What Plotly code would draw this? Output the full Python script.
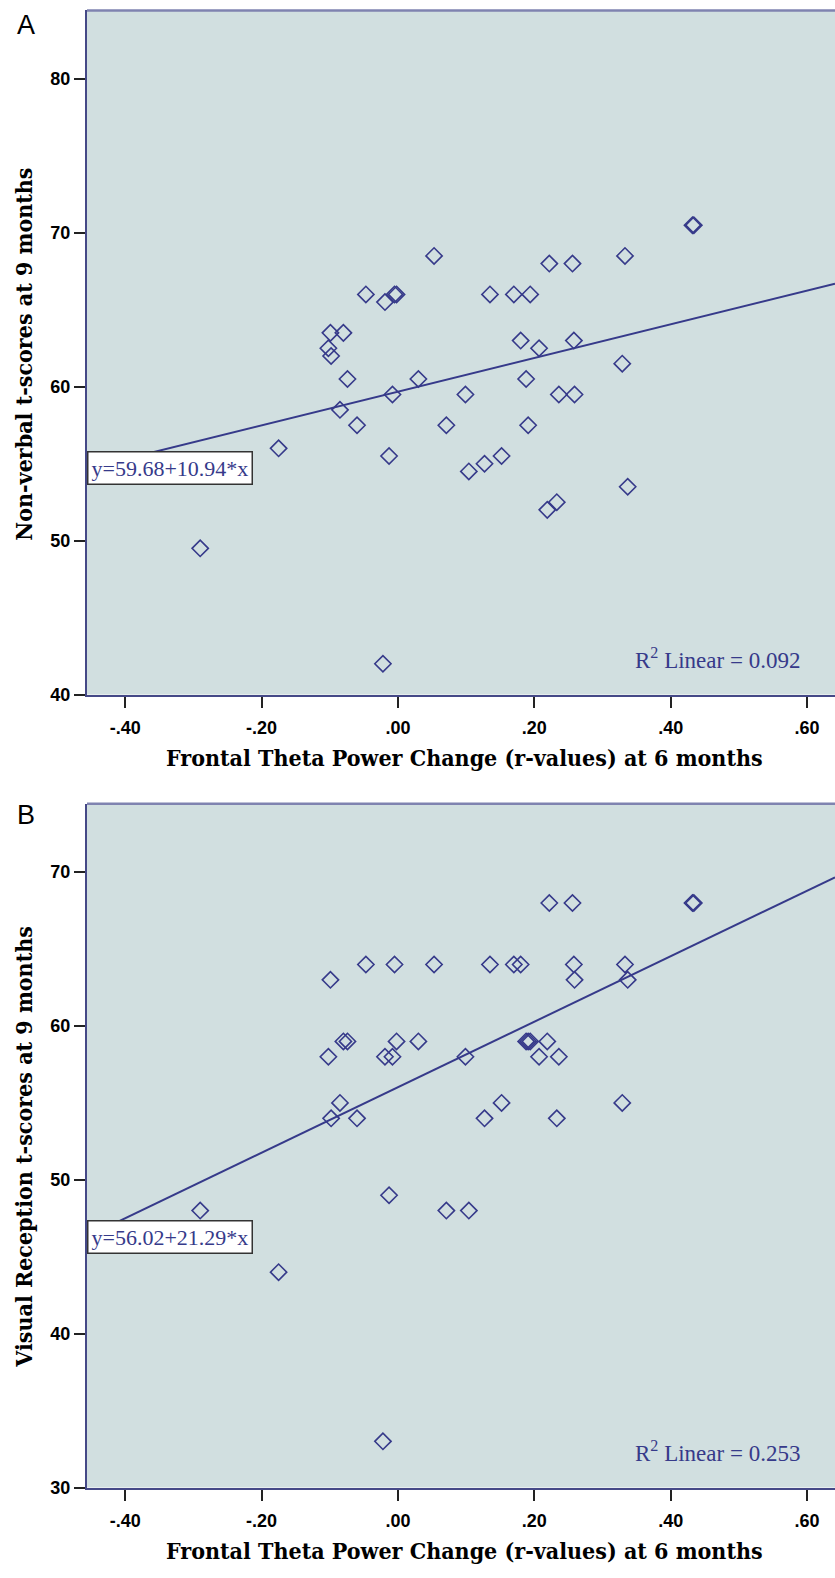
import plotly.graph_objects as go

# Frontal theta power change (r-values) at 6 months, one value per infant
theta_change = [-0.290, -0.175, -0.102, -0.099, -0.098, -0.085, -0.080, -0.074,
                -0.060, -0.047, -0.022, -0.019, -0.013, -0.008, -0.005, -0.002,
                0.030, 0.053, 0.071, 0.099, 0.104, 0.127, 0.135, 0.152,
                0.170, 0.180, 0.188, 0.191, 0.194, 0.207, 0.219, 0.222,
                0.233, 0.236, 0.256, 0.258, 0.259, 0.329, 0.333, 0.337,
                0.432, 0.434]

# Panel A: non-verbal t-scores at 9 months
nonverbal = [49.5, 56.0, 62.5, 63.5, 62.0, 58.5, 63.5, 60.5,
             57.5, 66.0, 42.0, 65.5, 55.5, 59.5, 66.0, 66.0,
             60.5, 68.5, 57.5, 59.5, 54.5, 55.0, 66.0, 55.5,
             66.0, 63.0, 60.5, 57.5, 66.0, 62.5, 52.0, 68.0,
             52.5, 59.5, 68.0, 63.0, 59.5, 61.5, 68.5, 53.5,
             70.5, 70.5]

# Panel B: visual reception t-scores at 9 months
visual = [48, 44, 58, 63, 54, 55, 59, 59,
          54, 64, 33, 58, 49, 58, 64, 59,
          59, 64, 48, 58, 48, 54, 64, 55,
          64, 64, 59, 59, 59, 58, 59, 68,
          54, 58, 68, 64, 63, 55, 64, 63,
          68, 68]

# fit lines as printed on the chart
fit_a = (59.68, 10.94)
fit_b = (56.02, 21.29)
r2_a = "0.092"
r2_b = "0.253"

x_ticks = [-0.4, -0.2, 0.0, 0.2, 0.4, 0.6]
x_tick_labels = ["-.40", "-.20", ".00", ".20", ".40", ".60"]
y_ticks_a = [40, 50, 60, 70, 80]
y_ticks_b = [30, 40, 50, 60, 70]

x_range = [-0.456, 0.641]
y_range_a = [40, 84.45]
y_range_b = [30, 74.44]

W, H = 835, 1578
BG = "#D1DFE0"
NAVY = "#363A8A"
AXIS = "#454987"


def py(px_val):
    # pixel row -> paper fraction
    return 1 - px_val / H


x_dom = [87 / W, 1.0]
dom_a = [py(699), py(10.5)]
dom_b = [py(1497), py(809)]

fig = go.Figure()

for xa, ya, ys, (b0, b1) in [("x", "y", nonverbal, fit_a),
                             ("x2", "y2", visual, fit_b)]:
    fig.add_trace(go.Scatter(
        x=theta_change, y=ys, xaxis=xa, yaxis=ya,
        mode="markers",
        marker=dict(symbol="diamond-open", size=12.5, color=NAVY,
                    line=dict(width=1.6, color=NAVY)),
        showlegend=False
    ))
    fig.add_trace(go.Scatter(
        x=x_range, y=[b0 + b1 * x for x in x_range], xaxis=xa, yaxis=ya,
        mode="lines", line=dict(color=NAVY, width=2),
        showlegend=False
    ))

tick_font = dict(family="Liberation Sans, Arial", size=18, color="black",
                 weight="bold")
xaxis_common = dict(
    range=x_range, domain=x_dom, tickmode="array",
    tickvals=x_ticks, ticktext=x_tick_labels,
    ticks="outside", ticklen=11, tickwidth=2, tickcolor="#222222",
    ticklabelstandoff=5,
    showline=True, linecolor=AXIS, linewidth=2,
    showgrid=False, zeroline=False, tickfont=tick_font
)
yaxis_common = dict(
    ticks="outside", ticklen=11, tickwidth=2, tickcolor="#222222",
    showline=True, linecolor=AXIS, linewidth=2,
    showgrid=False, zeroline=False, tickfont=tick_font
)

fig.update_layout(
    width=W, height=H,
    margin=dict(l=0, r=0, t=0, b=0),
    paper_bgcolor="white",
    plot_bgcolor=BG,
    xaxis=dict(anchor="y", **xaxis_common),
    yaxis=dict(anchor="x", domain=dom_a, range=y_range_a,
               tickvals=y_ticks_a, **yaxis_common),
    xaxis2=dict(anchor="y2", **xaxis_common),
    yaxis2=dict(anchor="x2", domain=dom_b, range=y_range_b,
                tickvals=y_ticks_b, **yaxis_common),
)

# lighter frame line along the top of each panel
for dom in (dom_a, dom_b):
    fig.add_shape(type="line", xref="paper", yref="paper",
                  x0=x_dom[0], x1=1, y0=dom[1], y1=dom[1],
                  line=dict(color="#7F83B0", width=2.5))

title_font = dict(family="DejaVu Serif Condensed, DejaVu Serif", size=23,
                  color="black")
eq_font = dict(family="Liberation Serif, Times New Roman", size=22, color=NAVY)

annotations = []
panels = [
    ("A", "x", "y", fit_a, r2_a, "Non-verbal t-scores at 9 months",
     25, 357, 762, 663),
    ("B", "x2", "y2", fit_b, r2_b, "Visual Reception t-scores at 9 months",
     820, 1154, 1560, 1461),
]
for letter, xa, ya, (b0, b1), r2, ytitle, letter_y, ytitle_y, xtitle_y, r2_y in panels:
    annotations.append(dict(
        text=letter, xref="paper", yref="paper", x=26 / W, y=py(letter_y),
        xanchor="center", yanchor="middle", showarrow=False,
        font=dict(family="Liberation Sans, Arial", size=27, color="black")))
    annotations.append(dict(
        text="<b>%s</b>" % ytitle, xref="paper", yref="paper",
        x=24 / W, y=py(ytitle_y), xanchor="center", yanchor="middle",
        textangle=-90, showarrow=False, font=title_font))
    annotations.append(dict(
        text="<b>Frontal Theta Power Change (r-values) at 6 months</b>",
        xref="paper", yref="paper", x=464 / W, y=py(xtitle_y),
        xanchor="center", yanchor="middle", showarrow=False, font=title_font))
    annotations.append(dict(
        text="y=%.2f+%.2f*x" % (b0, b1), xref=xa, yref=ya,
        x=x_range[0], y=b0 + b1 * x_range[0],
        xanchor="left", yanchor="middle", showarrow=False,
        bgcolor="white", bordercolor="#333333", borderwidth=1.5, borderpad=3,
        font=eq_font))
    annotations.append(dict(
        text="R<sup>2</sup> Linear = %s" % r2, xref="paper", yref="paper",
        x=802 / W, y=py(r2_y), xanchor="right", yanchor="middle",
        showarrow=False, font=dict(family="Liberation Serif, Times New Roman",
                                   size=23, color=NAVY)))

fig.update_layout(annotations=annotations)

# plotly's page keeps the browser's default 8px body margin; drop it so the
# figure fills the window exactly
fig.write_html("out.html",
               config={"displayModeBar": False},
               post_script="document.body.style.margin='0';"
                           "document.body.style.overflow='hidden';")
